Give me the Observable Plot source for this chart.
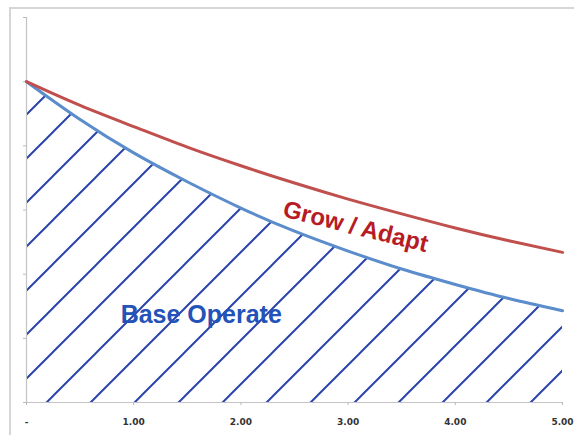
<!DOCTYPE html>
<html>
<head>
<meta charset="utf-8">
<script src="https://cdn.jsdelivr.net/npm/d3@7"></script>
<script src="https://cdn.jsdelivr.net/npm/@observablehq/plot@0.6"></script>
<style>
  html, body { margin: 0; padding: 0; background: #fff; overflow: hidden; }
  #wrap { position: relative; width: 574px; height: 435px; }
  #frame { position: absolute; left: 9px; top: 7px; width: 600px; height: 500px;
           border: 2px solid #d6d6d6; box-sizing: border-box; }
  #chart { position: absolute; left: 0; top: 0; }
</style>
</head>
<body>
<div id="wrap"><div id="frame"></div><div id="chart"></div></div>
<script>
// x positions (years) shared by both series
const xs = [0, 0.5, 1, 1.5, 2, 2.5, 3, 3.5, 4, 4.5, 5];
// "Base Operate" (blue, hatched area)
const baseOperate = [5.00, 4.41, 3.89, 3.44, 3.03, 2.67, 2.36, 2.08, 1.84, 1.62, 1.43];
// "Grow / Adapt" (red line)
const growAdapt = [5.00, 4.63, 4.30, 3.98, 3.69, 3.42, 3.17, 2.94, 2.72, 2.52, 2.34];
// axis ticks
const xTicks = [0, 1, 2, 3, 4, 5];
const xTickLabels = ["-", "1.00", "2.00", "3.00", "4.00", "5.00"];
const yTicks = [0, 1, 2, 3, 4, 5, 6];
// series labels
const labelNames = ["Base Operate", "Grow / Adapt"];
const labelX = [1.63, 3.07];
const labelY = [1.37, 2.74];

const base = xs.map((x, i) => ({x, y: baseOperate[i]}));
const grow = xs.map((x, i) => ({x, y: growAdapt[i]}));
const labels = labelNames.map((name, i) => ({name, x: labelX[i], y: labelY[i]}));

const plot = Plot.plot({
  width: 574,
  height: 435,
  marginLeft: 26,
  marginRight: 12,
  marginTop: 17,
  marginBottom: 33,
  style: {fontFamily: "DejaVu Sans", fontSize: "9px", fontWeight: "bold", background: "transparent", color: "#333"},
  x: {domain: [0, 5]},
  y: {domain: [0, 6]},
  marks: [
    Plot.areaY(base, {x: "x", y: "y", curve: "natural", fill: "url(#hatch)"}),
    Plot.ruleX([0], {stroke: "#c4c4c4", strokeWidth: 1.2}),
    Plot.ruleY([0], {stroke: "#c4c4c4", strokeWidth: 1.2}),
    Plot.axisY({ticks: yTicks, tickSize: 3, tickFormat: () => "", stroke: "#b8b8b8", label: null}),
    Plot.axisX({ticks: xTicks, tickSize: 3, tickPadding: 13, stroke: "#b8b8b8", fill: "#333",
                tickFormat: d => xTickLabels[xTicks.indexOf(d)], label: null}),
    Plot.line(base, {x: "x", y: "y", curve: "natural", stroke: "#5b8ccb", strokeWidth: 3}),
    Plot.line(grow, {x: "x", y: "y", curve: "natural", stroke: "#c0504d", strokeWidth: 3}),
    Plot.text(labels.slice(0, 1), {x: "x", y: "y", text: "name", fill: "#2352b8",
      fontFamily: "Liberation Sans", fontSize: 25, fontWeight: "bold"}),
    Plot.text(labels.slice(1), {x: "x", y: "y", text: "name", fill: "#b71c24", rotate: 14,
      fontFamily: "Liberation Sans", fontSize: 24, fontWeight: "bold"})
  ]
});

// hatch pattern definition for the area fill
const ns = "http://www.w3.org/2000/svg";
const defs = document.createElementNS(ns, "defs");
const pat = document.createElementNS(ns, "pattern");
pat.setAttribute("id", "hatch");
pat.setAttribute("patternUnits", "userSpaceOnUse");
pat.setAttribute("width", "44");
pat.setAttribute("height", "44");
pat.setAttribute("patternTransform", "translate(9,0)");
const p = document.createElementNS(ns, "path");
p.setAttribute("d", "M0,44 L44,0 M-11,11 L11,-11 M33,55 L55,33");
p.setAttribute("stroke", "#2a44aa");
p.setAttribute("stroke-width", "2");
p.setAttribute("fill", "none");
pat.appendChild(p);
defs.appendChild(pat);
plot.insertBefore(defs, plot.firstChild);

document.getElementById("chart").appendChild(plot);
</script>
</body>
</html>
